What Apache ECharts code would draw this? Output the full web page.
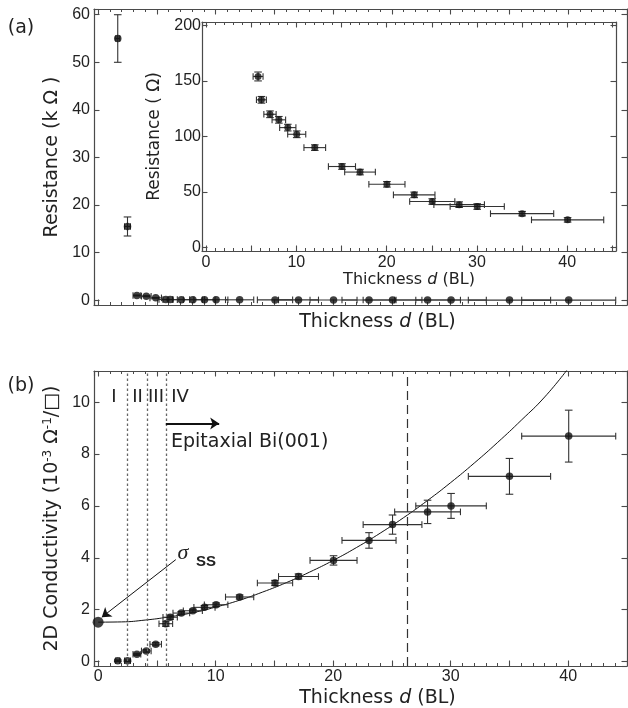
<!DOCTYPE html>
<html><head><meta charset="utf-8">
<script src="https://cdn.jsdelivr.net/npm/echarts@6/dist/echarts.min.js"></script>
<style>html,body{margin:0;padding:0;background:#fff}#c{width:628px;height:708px}</style>
</head><body><div id="c"></div>
<script>
// ---- data ----
const thickness = [1.67, 2.5, 3.3, 4.1, 4.9, 5.76, 6.13, 7.08, 8.06, 9.05, 10.04, 12.04, 15.05, 17.05, 20.03, 23.05, 25.05, 28.03, 30.03, 35.0, 40.04];
const thicknessErr = [0.17, 0.25, 0.33, 0.41, 0.49, 0.58, 0.61, 0.71, 0.81, 0.9, 1.0, 1.2, 1.5, 1.7, 2.0, 2.3, 2.5, 2.8, 3.0, 3.5, 4.0];
const resistanceK = [55, 15.5, 1.0, 0.85, 0.5, 0.154, 0.133, 0.12, 0.115, 0.108, 0.102, 0.09, 0.073, 0.068, 0.057, 0.0475, 0.0415, 0.0387, 0.037, 0.0306, 0.025];
const resistanceKErr = [5, 2, 0.1, 0.1, 0.05, 0, 0, 0, 0, 0, 0, 0, 0, 0, 0, 0, 0, 0, 0, 0, 0];

const insetThickness = [5.76, 6.13, 7.08, 8.06, 9.05, 10.04, 12.04, 15.05, 17.05, 20.03, 23.05, 25.05, 28.03, 30.03, 35.0, 40.04];
const insetThicknessErr = [0.55, 0.55, 0.68, 0.75, 0.9, 1.0, 1.2, 1.5, 1.7, 2.0, 2.3, 2.5, 2.8, 3.0, 3.5, 4.0];
const insetResistance = [154, 133, 120, 115, 108, 102, 90, 73, 68, 57, 47.5, 41.5, 38.7, 37, 30.6, 25];
const insetResistanceErr = [4, 3, 3, 3, 3, 3, 2.5, 2.5, 2.5, 2.5, 2.5, 2.5, 2.5, 2.5, 2, 2];

const conductivity = [0.03, 0.03, 0.28, 0.41, 0.67, 1.46, 1.71, 1.87, 1.96, 2.09, 2.19, 2.49, 3.03, 3.28, 3.9, 4.67, 5.28, 5.77, 6.0, 7.14, 8.69];
const conductivityErr = [0.03, 0.03, 0.04, 0.05, 0.06, 0.1, 0.08, 0.06, 0.06, 0.07, 0.07, 0.08, 0.1, 0.1, 0.18, 0.3, 0.37, 0.45, 0.48, 0.69, 1.0];

const sigmaSS = [0, 1.52];

const fitThickness = [0, 2, 4, 6, 8, 10, 12, 14, 16, 18, 20, 22, 24, 26, 28, 30, 32, 34, 36, 38, 40];
const fitConductivity = [1.52, 1.53, 1.6, 1.72, 1.88, 2.1, 2.36, 2.68, 3.04, 3.45, 3.9, 4.4, 4.95, 5.55, 6.2, 6.9, 7.65, 8.45, 9.3, 10.2, 11.3];

const regionBounds = [2.52, 4.14, 5.76];
const dashedBound = 26.3;
const epitaxialArrow = [[5.76, 9.18], [10.3, 9.18]];
const sigmaArrow = [[6.61, 3.93], [0.31, 1.71]];

// ---- styling ----
const AX = '#4a4a4a';
const TXT = '#222';
const NUMFONT = 'Liberation Sans';
const NAMEFONT = 'DejaVu Sans';

function zip4(a, b, c, d) { return a.map((v, i) => [v, b[i], c[i], d[i]]); }

function errRender(params, api) {
  const x = api.value(0), y = api.value(1), ex = api.value(2), ey = api.value(3);
  const st = { stroke: '#333', lineWidth: 1.1 };
  const ch = [];
  const cap = 3.3;
  if (ex > 0) {
    const l = api.coord([x - ex, y]), r = api.coord([x + ex, y]);
    ch.push({ type: 'line', shape: { x1: l[0], y1: l[1], x2: r[0], y2: r[1] }, style: st });
    ch.push({ type: 'line', shape: { x1: l[0], y1: l[1] - cap, x2: l[0], y2: l[1] + cap }, style: st });
    ch.push({ type: 'line', shape: { x1: r[0], y1: r[1] - cap, x2: r[0], y2: r[1] + cap }, style: st });
  }
  if (ey > 0) {
    const t = api.coord([x, y + ey]), b = api.coord([x, y - ey]);
    ch.push({ type: 'line', shape: { x1: t[0], y1: t[1], x2: b[0], y2: b[1] }, style: st });
    ch.push({ type: 'line', shape: { x1: t[0] - 3.8, y1: t[1], x2: t[0] + 3.8, y2: t[1] }, style: st });
    ch.push({ type: 'line', shape: { x1: b[0] - 3.8, y1: b[1], x2: b[0] + 3.8, y2: b[1] }, style: st });
  }
  return { type: 'group', children: ch };
}

function stepFmt(step) {
  return function (v) {
    const q = v / step;
    return Math.abs(q - Math.round(q)) < 1e-6 ? String(Math.round(v)) : '';
  };
}

function axisBase(gridIndex, position, min, max, splitNumber, minorSplit, showLabel, labelStep, labelMargin, fontSize) {
  return {
    type: 'value', gridIndex, position, min, max, splitNumber,
    axisLine: { show: true, onZero: false, lineStyle: { color: AX, width: 1.2 } },
    axisTick: { show: true, inside: true, length: 5.5, lineStyle: { color: AX, width: 1.1 } },
    minorTick: { show: minorSplit > 0, splitNumber: minorSplit || 5, length: 3, lineStyle: { color: AX, width: 1 } },
    splitLine: { show: false },
    minorSplitLine: { show: false },
    axisLabel: {
      show: showLabel, margin: labelMargin, color: TXT, fontFamily: NUMFONT, fontSize: fontSize || 16,
      formatter: stepFmt(labelStep), showMinLabel: true, showMaxLabel: true
    }
  };
}

const thickRich = (fs) => ({
  n: { fontFamily: NAMEFONT, fontSize: fs, color: TXT },
  i: { fontFamily: NAMEFONT, fontSize: fs, color: TXT, fontStyle: 'italic' }
});

// grids
const grids = [
  { left: 94, top: 9, width: 533, height: 296, outerBoundsMode: 'none', containLabel: false },
  { left: 202, top: 22, width: 414, height: 229, outerBoundsMode: 'none', containLabel: false },
  { left: 94, top: 371, width: 533, height: 295, outerBoundsMode: 'none', containLabel: false }
];

// x axes
const xA0 = Object.assign(axisBase(0, 'bottom', -0.35, 45, 9, 5, false, 10, 3), {
  name: '{n|Thickness }{i|d}{n| (BL)}', nameLocation: 'middle', nameGap: 8,
  nameTextStyle: { rich: thickRich(19), padding: [0, 0, 0, 34] }
});
const xA1 = axisBase(0, 'top', -0.35, 45, 9, 5, false, 10, 3);
const xA2 = Object.assign(axisBase(1, 'bottom', -0.45, 45.4, 9, 5, true, 10, 4), {
  name: '{n|Thickness }{i|d}{n| (BL)}', nameLocation: 'middle', nameGap: 16,
  nameTextStyle: { rich: thickRich(16), padding: [0, 0, 0, 0] }
});
const xA3 = axisBase(1, 'top', -0.45, 45.4, 9, 5, false, 10, 3);
const xA4 = Object.assign(axisBase(2, 'bottom', -0.35, 45, 9, 5, true, 10, 3), {
  name: '{n|Thickness }{i|d}{n| (BL)}', nameLocation: 'middle', nameGap: 23,
  nameTextStyle: { rich: thickRich(19), padding: [0, 0, 0, 34] }
});
const xA5 = axisBase(2, 'top', -0.35, 45, 9, 5, false, 10, 3);

// y axes
const yA0 = Object.assign(axisBase(0, 'left', -1, 61.2, 6, 0, true, 10, 4), {
  name: 'Resistance (k Ω )', nameLocation: 'middle', nameGap: 30, nameRotate: 90,
  nameTextStyle: { fontFamily: NAMEFONT, fontSize: 19, color: TXT }
});
const yA1 = axisBase(0, 'right', -1, 61.2, 6, 0, false, 10, 3);
const yA2 = Object.assign(axisBase(1, 'left', -3, 203, 4, 0, true, 50, 1), {
  name: 'Resistance ( Ω)', nameLocation: 'middle', nameGap: 30, nameRotate: 90,
  nameTextStyle: { fontFamily: NAMEFONT, fontSize: 17, color: TXT }
});
const yA3 = axisBase(1, 'right', -3, 203, 4, 0, false, 50, 3);
const yA4 = Object.assign(axisBase(2, 'left', -0.17, 11.2, 5, 0, true, 2, 4), {
  name: '2D Conductivity (10{sup|-3} Ω{sup|-1}/□)', nameLocation: 'middle', nameGap: 26, nameRotate: 90,
  nameTextStyle: {
    fontFamily: NAMEFONT, fontSize: 19, color: TXT,
    rich: { sup: { fontFamily: NAMEFONT, fontSize: 12, color: TXT, verticalAlign: 'top' } }
  }
});
const yA5 = axisBase(2, 'right', -0.17, 11.2, 5, 0, false, 2, 3);

const option = {
  animation: false,
  backgroundColor: '#fff',
  grid: grids,
  xAxis: [xA0, xA1, xA2, xA3, xA4, xA5],
  yAxis: [yA0, yA1, yA2, yA3, yA4, yA5],
  series: [
    // panel (a) outer
    { type: 'custom', xAxisIndex: 0, yAxisIndex: 0, renderItem: errRender, encode: { x: 0, y: 1 },
      data: zip4(thickness, resistanceK, thicknessErr, resistanceKErr), z: 2, silent: true },
    { type: 'scatter', xAxisIndex: 0, yAxisIndex: 0, symbolSize: 7.5, itemStyle: { color: '#111' },
      data: thickness.map((d, i) => [d, resistanceK[i]]), z: 3 },
    // inset
    { type: 'custom', xAxisIndex: 2, yAxisIndex: 2, renderItem: errRender, encode: { x: 0, y: 1 },
      data: zip4(insetThickness, insetResistance, insetThicknessErr, insetResistanceErr), z: 2, silent: true },
    { type: 'scatter', xAxisIndex: 2, yAxisIndex: 2, symbolSize: 7, itemStyle: { color: '#111' },
      data: insetThickness.map((d, i) => [d, insetResistance[i]]), z: 3 },
    // panel (b)
    { type: 'line', xAxisIndex: 4, yAxisIndex: 4, smooth: true, showSymbol: false, symbol: 'none',
      lineStyle: { color: '#111', width: 1 }, data: fitThickness.map((d, i) => [d, fitConductivity[i]]), z: 2, clip: true,
      markLine: {
        silent: true, symbol: ['none', 'none'], label: { show: false },
        data: [
          ...regionBounds.map(v => ({ xAxis: v, lineStyle: { color: '#666', width: 1.3, type: [2.5, 2.5] } })),
          { xAxis: dashedBound, lineStyle: { color: '#333', width: 1.2, type: [9, 5] } },
          [ { coord: epitaxialArrow[0], symbol: 'none', lineStyle: { color: '#111', width: 2, type: 'solid' } },
            { coord: epitaxialArrow[1], symbol: 'arrow', symbolSize: 9 } ],
          [ { coord: sigmaArrow[0], symbol: 'none', lineStyle: { color: '#111', width: 1, type: 'solid' } },
            { coord: sigmaArrow[1], symbol: 'arrow', symbolSize: 9 } ]
        ]
      } },
    { type: 'custom', xAxisIndex: 4, yAxisIndex: 4, renderItem: errRender, encode: { x: 0, y: 1 },
      data: zip4(thickness, conductivity, thicknessErr, conductivityErr), z: 3, silent: true },
    { type: 'scatter', xAxisIndex: 4, yAxisIndex: 4, symbolSize: 7.5, itemStyle: { color: '#111' },
      data: thickness.map((d, i) => [d, conductivity[i]]), z: 4 },
    { type: 'scatter', xAxisIndex: 4, yAxisIndex: 4, symbolSize: 11, itemStyle: { color: '#111' },
      data: [sigmaSS], z: 4 }
  ],
  graphic: [
    { type: 'text', x: 21, y: 28, style: { text: '(a)', font: '19px "DejaVu Sans"', fill: TXT, textAlign: 'center', textVerticalAlign: 'middle', align: 'center', verticalAlign: 'middle' } },
    { type: 'text', x: 21, y: 386, style: { text: '(b)', font: '19px "DejaVu Sans"', fill: TXT, textAlign: 'center', textVerticalAlign: 'middle', align: 'center', verticalAlign: 'middle' } },
    { type: 'text', x: 114, y: 397, style: { text: 'I', font: '18px "DejaVu Sans"', fill: TXT, textAlign: 'center', textVerticalAlign: 'middle', align: 'center', verticalAlign: 'middle' } },
    { type: 'text', x: 137.5, y: 397, style: { text: 'II', font: '18px "DejaVu Sans"', fill: TXT, textAlign: 'center', textVerticalAlign: 'middle', align: 'center', verticalAlign: 'middle' } },
    { type: 'text', x: 156, y: 397, style: { text: 'III', font: '18px "DejaVu Sans"', fill: TXT, textAlign: 'center', textVerticalAlign: 'middle', align: 'center', verticalAlign: 'middle' } },
    { type: 'text', x: 180, y: 397, style: { text: 'IV', font: '18px "DejaVu Sans"', fill: TXT, textAlign: 'center', textVerticalAlign: 'middle', align: 'center', verticalAlign: 'middle' } },
    { type: 'text', x: 171, y: 442, style: { text: 'Epitaxial Bi(001)', font: '19px "DejaVu Sans"', fill: TXT, textAlign: 'left', textVerticalAlign: 'middle', align: 'left', verticalAlign: 'middle' } },
    { type: 'text', x: 183, y: 553, style: { text: 'σ', font: 'italic 22px "Liberation Serif"', fill: TXT, textAlign: 'center', textVerticalAlign: 'middle', align: 'center', verticalAlign: 'middle' } },
    { type: 'text', x: 206, y: 562, style: { text: 'SS', font: 'bold 15px "Liberation Sans"', fill: TXT, textAlign: 'center', textVerticalAlign: 'middle', align: 'center', verticalAlign: 'middle' } }
  ]
};

const chart = echarts.init(document.getElementById('c'), null, { renderer: 'canvas' });
chart.setOption(option);
</script>
</body></html>
